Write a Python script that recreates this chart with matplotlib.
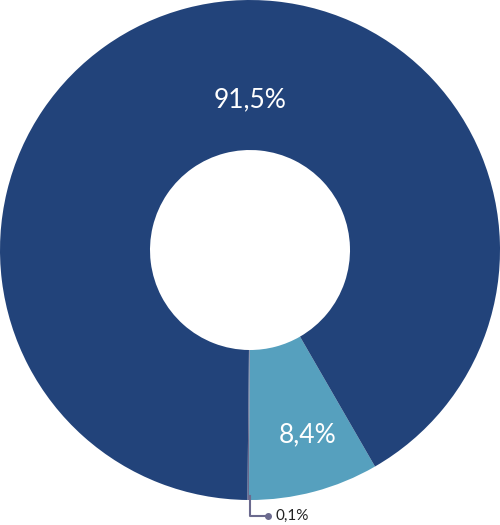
import matplotlib.pyplot as plt

labels = ["8,4%", "0,1%", "91,5%"]
values = [8.4, 0.1, 91.5]
colors = ["#56A0BE", "#6B6A8E", "#22437A"]

plt.rcParams["font.family"] = ["Lato", "DejaVu Sans"]

fig = plt.figure(figsize=(5.0, 5.25), dpi=100)
ax = fig.add_axes([0, 0.0476, 1, 0.9524])
wedges, _ = ax.pie(values, colors=colors, startangle=-60, counterclock=False,
                   radius=1.0, wedgeprops=dict(width=0.6, edgecolor="none"))
ax.set_aspect("equal")
ax.set_xlim(-1, 1)
ax.set_ylim(-1, 1)
ax.axis("off")

# inside labels
ax.text(0.0, 0.6, labels[2], color="white", fontsize=19, ha="center", va="center")
ax.text(0.23, -0.74, labels[0], color="white", fontsize=19, ha="center", va="center")

# leader line for tiny slice
lc = "#6B6A8E"
ax.plot([0.0, 0.0, 0.07], [-0.985, -1.065, -1.065], color=lc, lw=1.5, clip_on=False)
ax.plot([0.07], [-1.065], "o", color=lc, ms=4, clip_on=False)
ax.text(0.1, -1.065, labels[1], color="#222222", fontsize=11, ha="left", va="center")

fig.savefig("out.png", dpi=100)
